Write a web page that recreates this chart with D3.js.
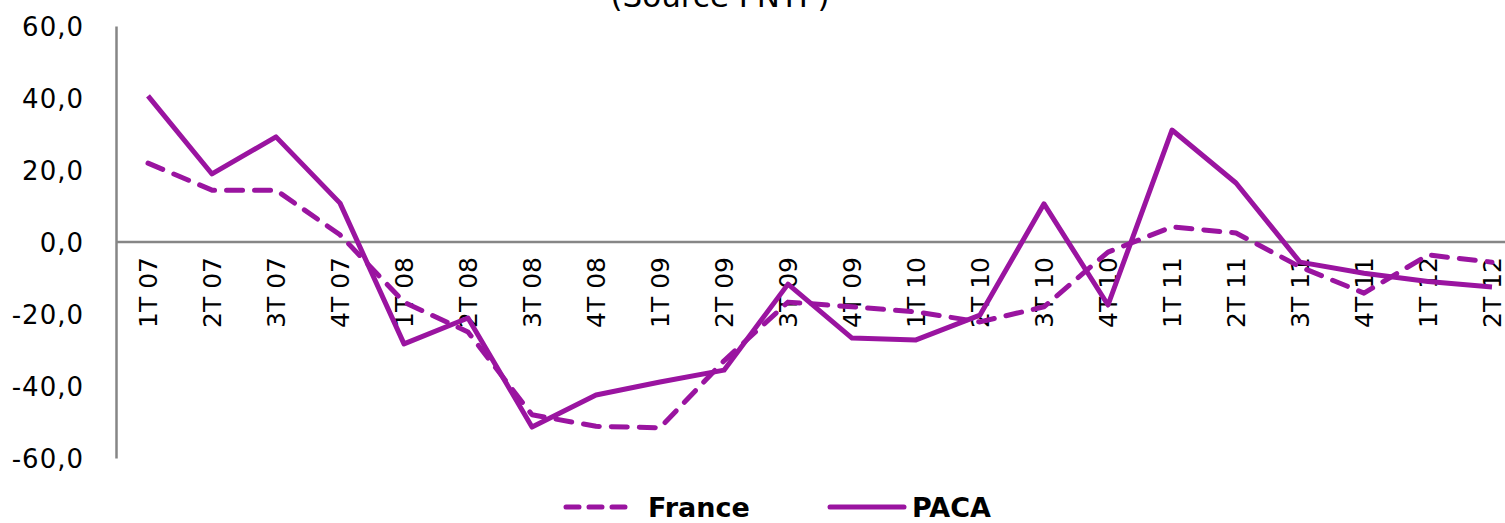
<!DOCTYPE html>
<html>
<head>
<meta charset="utf-8">
<script src="https://cdn.jsdelivr.net/npm/d3@7"></script>
<style>
 html, body { margin: 0; padding: 0; background: #fff; }
 svg { display: block; font-family: "DejaVu Sans", Verdana, sans-serif; }
</style>
</head>
<body>
<div id="chart"></div>
<script>
const categories = ["1T 07", "2T 07", "3T 07", "4T 07", "1T 08", "2T 08", "3T 08", "4T 08",
 "1T 09", "2T 09", "3T 09", "4T 09", "1T 10", "2T 10", "3T 10", "4T 10",
 "1T 11", "2T 11", "3T 11", "4T 11", "1T 12", "2T 12"];
const france = [21.9, 14.4, 14.4, 2.0, -16.7, -25.0, -48.0, -51.2, -51.6, -33.0, -16.7, -18.0,
 -19.4, -22.2, -18.0, -2.8, 4.2, 2.5, -6.9, -14.2, -3.6, -5.6];
const paca = [40.6, 18.9, 29.2, 10.8, -28.3, -21.1, -51.4, -42.5, -38.9, -35.6, -11.7, -26.7,
 -27.2, -20.3, 10.6, -17.5, 31.1, 16.4, -5.6, -8.7, -11.0, -12.5];
const yTicks = [-60, -40, -20, 0, 20, 40, 60];

const width = 1505, height = 523;
const color = "#9A14A0";
const plotLeft = 116, plotTop = 26, plotBottom = 458;
const bandW = 64;

const svg = d3.select("#chart").append("svg")
 .attr("width", width)
 .attr("height", height);

const x = d3.scaleBand()
 .domain(categories)
 .range([plotLeft, plotLeft + bandW * categories.length]);

const y = d3.scaleLinear()
 .domain([-60, 60])
 .range([plotBottom, plotTop]);

const fmt = v => d3.format(".1f")(v).replace(".", ",").replace("−", "-");

// y axis
const yAxis = svg.append("g")
 .attr("transform", `translate(${plotLeft},0)`)
 .call(d3.axisLeft(y).tickValues(yTicks).tickFormat(fmt).tickSize(0).tickPadding(32));
yAxis.select(".domain").attr("stroke", "#868686").attr("stroke-width", 2.5);
yAxis.selectAll("text")
 .attr("fill", "#000")
 .attr("dy", "0.36em")
 .style("font-size", "26px")
 .style("letter-spacing", "1px")
 .style("font-family", "DejaVu Sans, sans-serif");

// zero line
svg.append("line")
 .attr("x1", plotLeft).attr("x2", width)
 .attr("y1", y(0)).attr("y2", y(0))
 .attr("stroke", "#868686").attr("stroke-width", 2.5);

// category labels
svg.append("g").selectAll("text")
 .data(categories)
 .join("text")
 .attr("transform", d => `translate(${x(d) + x.bandwidth() / 2 + 9},${y(0) + 15}) rotate(-90)`)
 .attr("text-anchor", "end")
 .style("font-size", "25px")
 .attr("fill", "#000")
 .text(d => d);

const line = d3.line()
 .x((d, i) => x(categories[i]) + x.bandwidth() / 2)
 .y(d => y(d));

svg.append("path")
 .datum(france)
 .attr("d", line)
 .attr("fill", "none")
 .attr("stroke", color)
 .attr("stroke-width", 5)
 .attr("stroke-linecap", "round")
 .attr("stroke-linejoin", "round")
 .attr("stroke-dasharray", "16,12");

svg.append("path")
 .datum(paca)
 .attr("d", line)
 .attr("fill", "none")
 .attr("stroke", color)
 .attr("stroke-width", 5)
 .attr("stroke-linejoin", "round");

// title (cut at the top of the picture)
svg.append("text")
 .attr("x", 720).attr("y", 7)
 .attr("text-anchor", "middle")
 .style("font-size", "31px")
 .attr("fill", "#000")
 .text("(Source FNTP)");

// legend
const legend = [
 { name: "France", x1: 566, x2: 630, tx: 648, dash: "13,10", cap: "round" },
 { name: "PACA", x1: 830, x2: 904, tx: 912, dash: null, cap: "round" }
];
const lg = svg.append("g").selectAll("g").data(legend).join("g");
lg.append("line")
 .attr("x1", d => d.x1).attr("x2", d => d.x2)
 .attr("y1", 507).attr("y2", 507)
 .attr("stroke", color).attr("stroke-width", 5)
 .attr("stroke-linecap", d => d.cap)
 .attr("stroke-dasharray", d => d.dash);
lg.append("text")
 .attr("x", d => d.tx).attr("y", 517)
 .style("font-size", "27px")
 .style("font-weight", "bold")
 .attr("fill", "#000")
 .text(d => d.name);
</script>
</body>
</html>
